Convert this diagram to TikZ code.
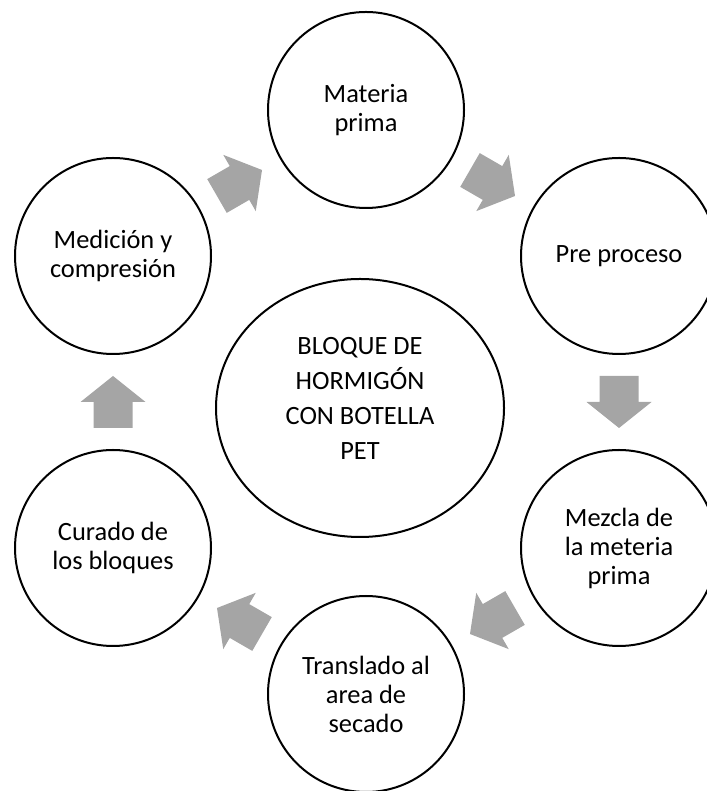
\documentclass[tikz,border=0pt]{standalone}
\usepackage{fontspec}
\setmainfont{Carlito}
\usepackage{tikz}
\usetikzlibrary{calc, positioning, shapes.geometric}
\definecolor{flechagris}{RGB}{165,165,165}

\begin{document}
\begin{tikzpicture}[
		x=0.75pt, y=0.75pt,
		etapa/.style={circle, draw, line width=1.5pt, minimum size=147pt, inner sep=0pt, align=center, font=\fontsize{19.8}{21.75}\selectfont},
		centro/.style={ellipse, draw, line width=1.5pt, minimum width=216pt, minimum height=193.5pt, inner sep=0pt, align=center, text depth=15pt, font=\fontsize{19.8}{26.25}\selectfont},
		flecha/.pic={\fill[flechagris] (-26,-19.5) -- (0,-19.5) -- (0,-32.5) -- (26,0) -- (0,32.5) -- (0,19.5) -- (-26,19.5) -- cycle;} % flèche pleine grise
		]
		\useasboundingbox (0,0) rectangle (706,791);
		
		% Le bloc central
		\node[centro] (bloque) at (360, 383) {BLOQUE DE\\HORMIGÓN\\CON BOTELLA\\PET};
		
		% Les étapes
		\node[etapa] (materia) at (366, 681) {Materia\\prima};
		\node[etapa] (pre) at (619, 535) {Pre proceso};
		\node[etapa] (mezcla) at (619, 243) {Mezcla de\\la meteria\\prima};
		\node[etapa] (traslado) at (366, 97) {Translado al\\area de\\secado};
		\node[etapa] (curado) at (113, 243) {Curado de\\los bloques};
		\node[etapa] (medicion) at (113, 535) {Medición y\\compresión};
		
		% Les flèches entre les étapes
		\pic[rotate=-30] at ($(materia)!0.5!(pre)$) {flecha};
		\pic[rotate=-90] at ($(pre)!0.5!(mezcla)$) {flecha};
		\pic[rotate=-150] at ($(mezcla)!0.5!(traslado)$) {flecha};
		\pic[rotate=150] at ($(traslado)!0.5!(curado)$) {flecha};
		\pic[rotate=90] at ($(curado)!0.5!(medicion)$) {flecha};
		\pic[rotate=30] at ($(medicion)!0.5!(materia)$) {flecha};
	\end{tikzpicture}
\end{document}
